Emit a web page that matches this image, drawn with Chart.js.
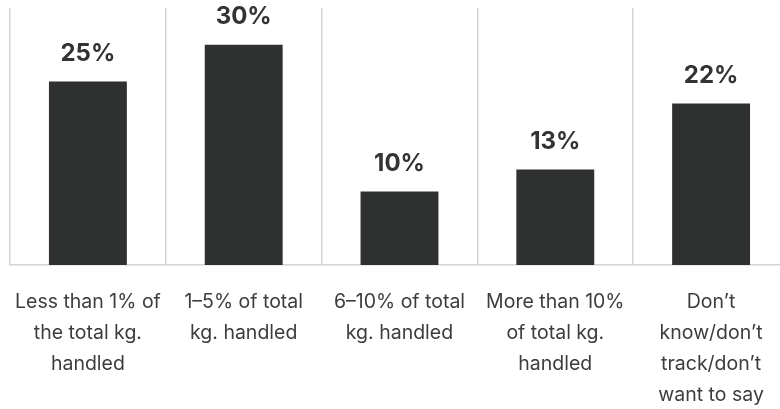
<!DOCTYPE html>
<html>
<head>
<meta charset="utf-8">
<script src="https://cdn.jsdelivr.net/npm/chart.js@4.4.1/dist/chart.umd.min.js"></script>
<style>
  html, body { margin: 0; padding: 0; background: #fff; overflow: hidden; }
  #wrap { width: 800px; height: 433px; }
</style>
</head>
<body>
<div id="wrap"><canvas id="barChart" width="800" height="433"></canvas></div>
<script>
var categories = [
    ['Less than 1% of', 'the total kg.', 'handled'],
    ['1\u20135% of total', 'kg. handled'],
    ['6\u201310% of total', 'kg. handled'],
    ['More than 10%', 'of total kg.', 'handled'],
    ['Don\u2019t', 'know/don\u2019t', 'track/don\u2019t', 'want to say']
];
var shares = [25, 30, 10, 13, 22];
var yMax = 35;

// labels above bars
var valueLabels = {
    id: 'valueLabels',
    afterDatasetsDraw: function (chart) {
        var ctx = chart.ctx;
        var meta = chart.getDatasetMeta(0);
        ctx.save();
        ctx.font = 'bold 24px Inter';
        ctx.fillStyle = '#333333';
        ctx.textAlign = 'center';
        ctx.textBaseline = 'middle';
        meta.data.forEach(function (bar, i) {
            ctx.fillText(shares[i] + '%', bar.x, bar.y - 28);
        });
        ctx.restore();
    }
};

new Chart(document.getElementById('barChart'), {
    type: 'bar',
    data: {
        labels: categories,
        datasets: [{
            data: shares,
            backgroundColor: '#2f3030',
            barPercentage: 0.5,
            categoryPercentage: 1
        }]
    },
    options: {
        responsive: false,
        animation: false,
        layout: { padding: { left: 10, right: 11, top: 8, bottom: 0 } },
        plugins: {
            legend: { display: false },
            tooltip: { enabled: false }
        },
        scales: {
            x: {
                grid: { color: '#d3d5d5', lineWidth: 1.5, drawTicks: false },
                border: { color: '#d3d5d5', width: 1.5 },
                ticks: {
                    color: '#3d3d3d',
                    font: { family: 'Inter', size: 19.5, lineHeight: 1.59 },
                    padding: 22,
                    maxRotation: 0,
                    autoSkip: false
                },
                afterFit: function (scale) {
                    // wide first label should not push the plot area in
                    scale.paddingLeft = 0;
                    scale.paddingRight = 0;
                }
            },
            y: {
                display: false,
                min: 0,
                max: yMax
            }
        }
    },
    plugins: [valueLabels]
});
</script>
</body>
</html>
